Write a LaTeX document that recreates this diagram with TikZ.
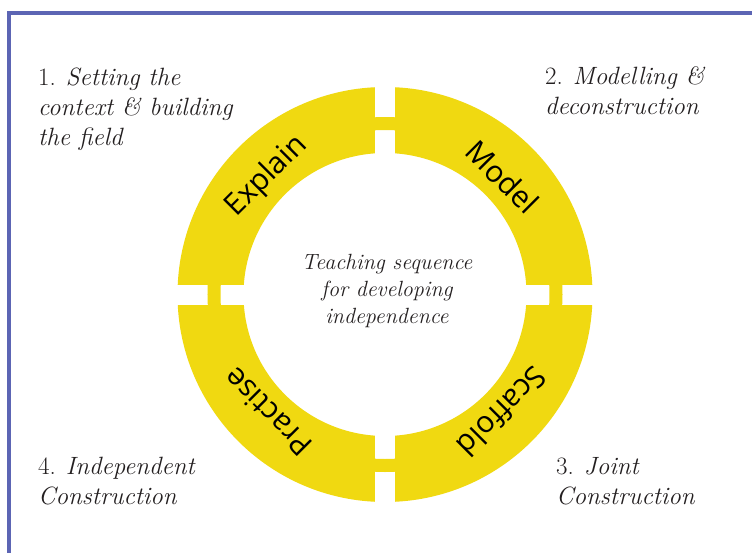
\documentclass[tikz,border=0pt]{standalone}
\usepackage{fontspec}
\newfontfamily\ringfont{Open Sans}
\definecolor{ringyellow}{RGB}{240,217,17}
\definecolor{framelilac}{RGB}{92,101,180}
\definecolor{textgray}{RGB}{35,31,32}

\begin{document}
\begin{tikzpicture}[line cap=round,line join=round,x=1pt,y=1pt,
  stage/.style={anchor=base west,align=left,inner sep=0pt,text=textgray,font=\fontsize{25}{30}\selectfont},
  ringlabel/.style={inner sep=0pt,text=black,font=\ringfont\fontsize{30}{30}\selectfont}]
\clip(-385,-257.5) rectangle (367,294.5);
\fill [white] (-385,-257.5) rectangle (367,294.5);
\draw [color=framelilac,line width=4pt,line cap=butt,line join=miter] (-376,-300) -- (-376,281.5) -- (400,281.5);
% ring with four cut gaps
\fill [ringyellow,even odd rule] (0,0) circle (207.5) (0,0) circle (141.5);
\fill [white] (-10,135) rectangle (10,215);
\fill [white] (-10,-135) rectangle (10,-215);
\fill [white] (135,-10) rectangle (215,10);
\fill [white] (-135,-10) rectangle (-215,10);
\draw [color=ringyellow,line width=13pt] (0,0) circle (171);
% stage names on the ring
\node [ringlabel,rotate=45] (explain) at (135:167) {Explain};
\node [ringlabel,rotate=-45] (model) at (45:166) {Model};
\node [ringlabel,rotate=-135] (scaffold) at (-45:166) {Scaffold};
\node [ringlabel,rotate=135] (practise) at (-135:166) {Practise};
% centre (base = last line)
\node [anchor=base,align=center,inner sep=0pt,text=textgray,font=\itshape\fontsize{22}{27}\selectfont] (centre) at (2,-28.5) {Teaching sequence\\for developing\\independence};
% the four steps
\node [stage] (step1) at (-347,149.5) {1. \textit{Setting the}\\\textit{context \& building}\\\textit{the field}};
\node [stage] (step2) at (160,179.5) {2. \textit{Modelling \&}\\\textit{deconstruction}};
\node [stage] (step3) at (171,-209.5) {3. \textit{Joint}\\\textit{Construction}};
\node [stage] (step4) at (-347,-209.5) {4. \textit{Independent}\\\textit{Construction}};
\end{tikzpicture}
\end{document}
